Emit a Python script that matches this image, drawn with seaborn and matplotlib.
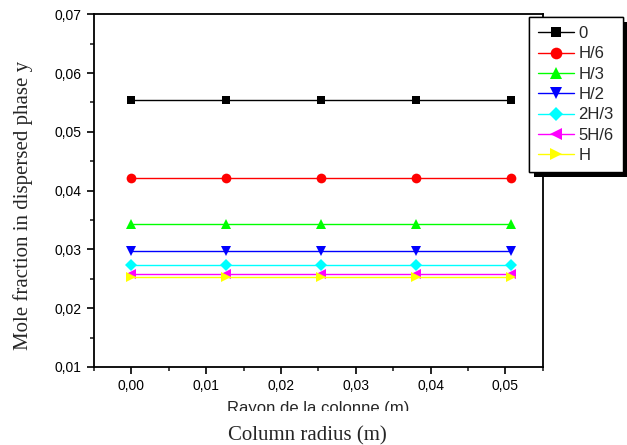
import numpy as np
import pandas as pd
import matplotlib
matplotlib.use("Agg")
import matplotlib.pyplot as plt
import matplotlib.patheffects as pe
from matplotlib.ticker import MultipleLocator, FuncFormatter
from matplotlib.patches import Rectangle
import seaborn as sns

# ---- data ----
radius = [0.0, 0.0127, 0.0254, 0.0381, 0.0508]
series_names = ["0", "H/6", "H/3", "H/2", "2H/3", "5H/6", "H"]
y_0 = [0.0554, 0.0554, 0.0554, 0.0554, 0.0554]
y_h6 = [0.0421, 0.0421, 0.0421, 0.0421, 0.0421]
y_h3 = [0.0343, 0.0343, 0.0343, 0.0343, 0.0343]
y_h2 = [0.0298, 0.0298, 0.0298, 0.0298, 0.0298]
y_2h3 = [0.0273, 0.0273, 0.0273, 0.0273, 0.0273]
y_5h6 = [0.0258, 0.0258, 0.0258, 0.0258, 0.0258]
y_h = [0.0253, 0.0253, 0.0253, 0.0253, 0.0253]
all_values = [y_0, y_h6, y_h3, y_h2, y_2h3, y_5h6, y_h]
y_ticks = [0.01, 0.02, 0.03, 0.04, 0.05, 0.06, 0.07]
x_ticks = [0.00, 0.01, 0.02, 0.03, 0.04, 0.05]

colors = ["#000000", "#ff0000", "#00ff00", "#0000ff", "#00ffff", "#ff00ff", "#ffff00"]
markers = ["s", "o", "^", "v", "D", "<", ">"]
msizes = [6, 7, 7, 7, 6, 7, 7]

rows = []
for name, vals in zip(series_names, all_values):
    for x, v in zip(radius, vals):
        rows.append({"r": x, "y": v, "series": name})
df = pd.DataFrame(rows)

sns.set_theme(style="ticks")
plt.rcParams["font.family"] = ["Liberation Sans", "DejaVu Sans"]

fig = plt.figure(figsize=(6.27, 4.45), dpi=100)
ax = fig.add_axes([0.150, 0.1753, 0.7156, 0.7926])

for name, vals, c, m, ms in zip(series_names, all_values, colors, markers, msizes):
    sub = df[df["series"] == name]
    sns.lineplot(data=sub, x="r", y="y", ax=ax, color=c, marker=m, markersize=ms,
                 markeredgewidth=0, linewidth=1.0, label=name, legend=False)

ax.set_xlim(-0.005, 0.055)
ax.set_ylim(0.01, 0.07)
ax.set_xticks(x_ticks)
ax.set_yticks(y_ticks)
ax.xaxis.set_minor_locator(MultipleLocator(0.005))
ax.yaxis.set_minor_locator(MultipleLocator(0.005))
fmt = FuncFormatter(lambda v, p: f"{v:.2f}".replace(".", ","))
ax.xaxis.set_major_formatter(fmt)
ax.yaxis.set_major_formatter(fmt)
ax.tick_params(axis="both", which="major", direction="out", length=5, width=1.2,
               labelsize=10, colors="black", pad=4)
ax.tick_params(axis="both", which="minor", direction="out", length=3, width=1.2)
ax.tick_params(top=False, right=False, which="both")
for s in ax.spines.values():
    s.set_visible(True)
    s.set_linewidth(1.3)
    s.set_color("black")
ax.set_xlabel("")
ax.set_ylabel("")

# y label
fig.text(0.037, 1 - 205.5 / 445, "Mole fraction in dispersed phase y", rotation=90,
         ha="center", va="center", fontsize=15, family=["Liberation Serif"])
# clipped French label
fig.text(318.5 / 627, 1 - 413 / 445, "Rayon de la colonne (m)", ha="center", va="baseline",
         fontsize=12, family=["Liberation Sans"], zorder=3)
fig.add_artist(Rectangle((0, 1 - 421 / 445), 1, (421 - 411) / 445, transform=fig.transFigure,
                         facecolor="white", edgecolor="none", zorder=4))
fig.text(307 / 627, 1 - 440 / 445, "Column radius (m)", ha="center", va="baseline",
         fontsize=15, family=["Liberation Serif"], zorder=5)

leg = ax.legend(loc="upper left", bbox_to_anchor=(529 / 627, 1 - 17 / 445),
                bbox_transform=fig.transFigure, fancybox=False, frameon=True,
                edgecolor="black", framealpha=1, fontsize=12, handlelength=2.15,
                labelspacing=0.32, borderpad=0.55, handletextpad=0.25, borderaxespad=0,
                markerscale=1.2)
leg.get_frame().set_linewidth(1.0)
leg.get_frame().set_path_effects([pe.withSimplePatchShadow(offset=(3.3, -3.3),
                                  shadow_rgbFace="black", alpha=1), pe.Normal()])
leg.set_zorder(10)

fig.savefig("out.png", dpi=100)
